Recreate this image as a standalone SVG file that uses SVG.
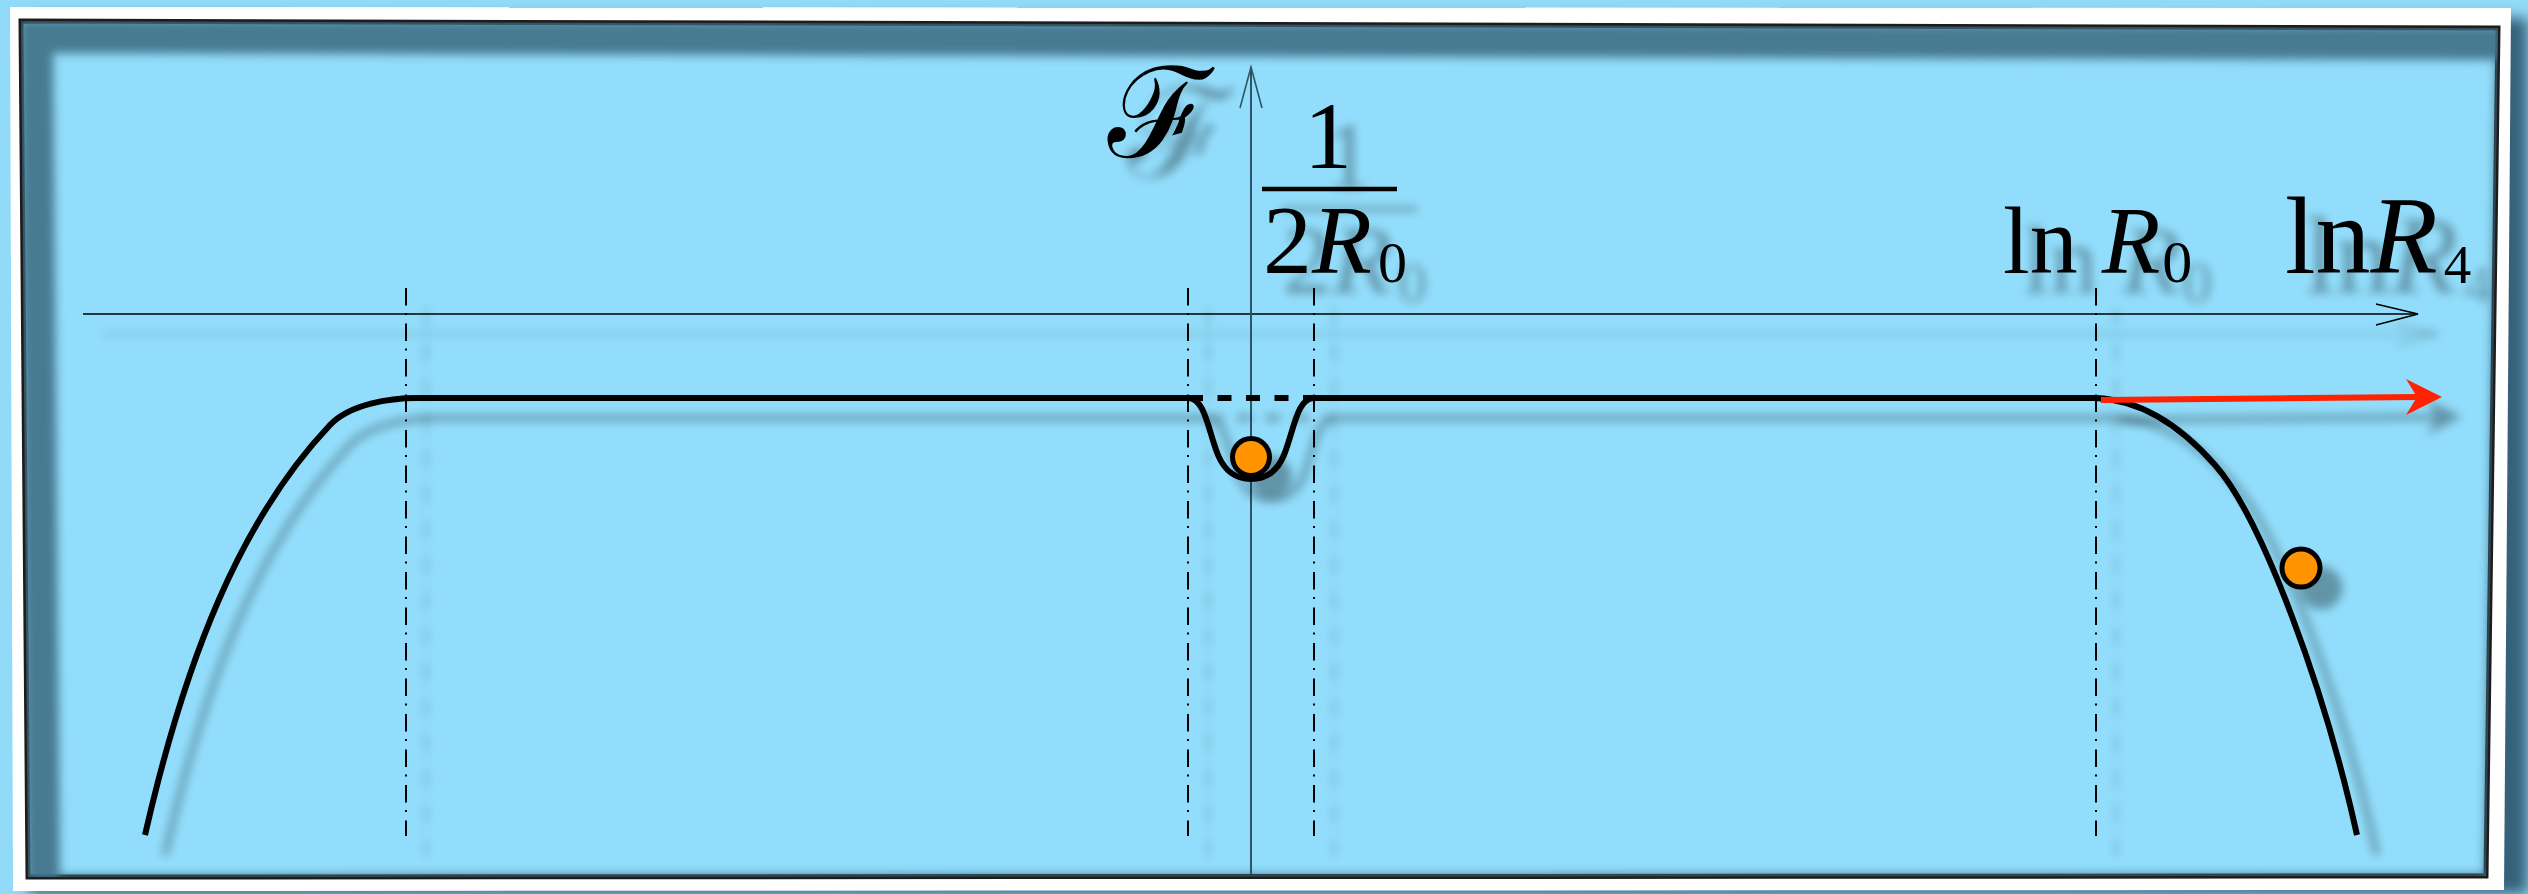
<svg xmlns="http://www.w3.org/2000/svg" width="2528" height="894" viewBox="0 0 2528 894">
<style>
.curve{fill:none;stroke:#000;stroke-width:6;stroke-linecap:butt;stroke-linejoin:round}
.guide{stroke:#000;stroke-width:2;stroke-dasharray:17.5 7.5 2 8.5;fill:none}
.ball{fill:#ff9400;stroke:#000;stroke-width:5}
.tx{font-family:"Liberation Serif","Times New Roman",serif;fill:#000}
.it{font-style:italic}
</style>
<defs>
<filter id="sh" filterUnits="userSpaceOnUse" x="0" y="0" width="2528" height="894">
<feGaussianBlur in="SourceAlpha" stdDeviation="5"/>
<feOffset dx="20" dy="20" result="o"/>
<feComponentTransfer><feFuncA type="linear" slope="0.33"/></feComponentTransfer>
<feMerge><feMergeNode/><feMergeNode in="SourceGraphic"/></feMerge>
</filter>
<filter id="blur6" filterUnits="userSpaceOnUse" x="-50" y="-50" width="2650" height="1000">
<feGaussianBlur stdDeviation="7"/>
</filter>
<filter id="blur4" filterUnits="userSpaceOnUse" x="-50" y="-50" width="2650" height="1000">
<feGaussianBlur stdDeviation="5"/>
</filter>
<clipPath id="innerClip"><polygon points="21,21 2498,28 2486,876 28,877"/></clipPath>
</defs>

<g id="frame">
<rect x="0" y="0" width="2528" height="894" fill="#92dbf8"/>
<polygon points="26,17 2528,18 2528,894 29,894" fill="#34627a" filter="url(#blur6)"/>
<polygon points="10,7 2511,8 2504,890 13,891" fill="#ffffff"/>
<polygon points="21,21 2498,28 2486,876 28,877" fill="#92ddfb" stroke="#1c1c1c" stroke-width="5"/>
<g clip-path="url(#innerClip)">
<polygon points="36,36 2513,43 2501,891 43,892" fill="none" stroke="#3f6f86" stroke-width="34" filter="url(#blur4)" opacity="0.9"/>
</g>
</g>

<g id="axes">
<g id="x-axis" filter="url(#sh)">
<line x1="83" y1="314" x2="2418" y2="314" stroke="#000" stroke-width="1.6"/>
<polyline points="2376,304 2418,314 2376,325" fill="none" stroke="#000" stroke-width="1.6"/>
</g>
<g id="y-axis">
<line x1="1251" y1="67" x2="1251" y2="874" stroke="#2e5566" stroke-width="2"/>
<polyline points="1240,108 1251,67 1262,108" fill="none" stroke="#2e5566" stroke-width="1.6"/>
</g>
</g>

<g id="guides" filter="url(#sh)">
<line class="guide" x1="406" y1="288" x2="406" y2="836"/>
<line class="guide" x1="1188" y1="288" x2="1188" y2="836"/>
<line class="guide" x1="1314" y1="288" x2="1314" y2="836"/>
<line class="guide" x1="2096" y1="288" x2="2096" y2="836"/>
</g>

<g id="potential-curve" filter="url(#sh)">
<path class="curve" d="M145,835 C185,660 240,520 330,425 C350,404 390,398 417,398 L1188,398 C1205,398 1208,430 1218,455 C1226,474 1238,479 1251,479 C1264,479 1276,474 1284,455 C1294,430 1297,398 1314,398 L2096,398 C2140,400 2180,425 2215,465 C2262,518 2325,690 2357,835"/>
<line x1="1189" y1="398" x2="1318" y2="398" stroke="#000" stroke-width="6" stroke-dasharray="14 14.5"/>
</g>

<g id="ball-dip" filter="url(#sh)">
<circle class="ball" cx="1251" cy="457" r="18.5"/>
</g>
<g id="ball-slope" filter="url(#sh)">
<circle class="ball" cx="2301" cy="568" r="19"/>
</g>

<g id="push-arrow" filter="url(#sh)">
<line x1="2101" y1="400" x2="2420" y2="397" stroke="#ff2200" stroke-width="6"/>
<polygon points="2442,397 2406,379 2417,397 2406,415" fill="#ff2200"/>
</g>

<g id="labels" filter="url(#sh)">
<text id="label-F" class="tx" x="1108" y="157" font-family="DejaVu Serif, DejaVu Sans, serif" font-size="126">ℱ</text>
<g id="label-frac">
<text class="tx" x="1328" y="168" font-size="96" text-anchor="middle">1</text>
<line x1="1262" y1="189" x2="1397" y2="189" stroke="#000" stroke-width="4.5"/>
<text class="tx" x="1263" y="273" font-size="98">2<tspan class="it">R</tspan><tspan font-size="58" dy="9" dx="6">0</tspan></text>
</g>
<text id="label-lnR0" class="tx" x="2003" y="273" font-size="96">ln <tspan class="it">R</tspan><tspan font-size="60" dy="9" dx="2">0</tspan></text>
<text id="label-lnR4" class="tx" x="2285" y="273" font-size="110">ln<tspan class="it">R</tspan><tspan font-size="55" dy="10" dx="6">4</tspan></text>
</g>
</svg>
